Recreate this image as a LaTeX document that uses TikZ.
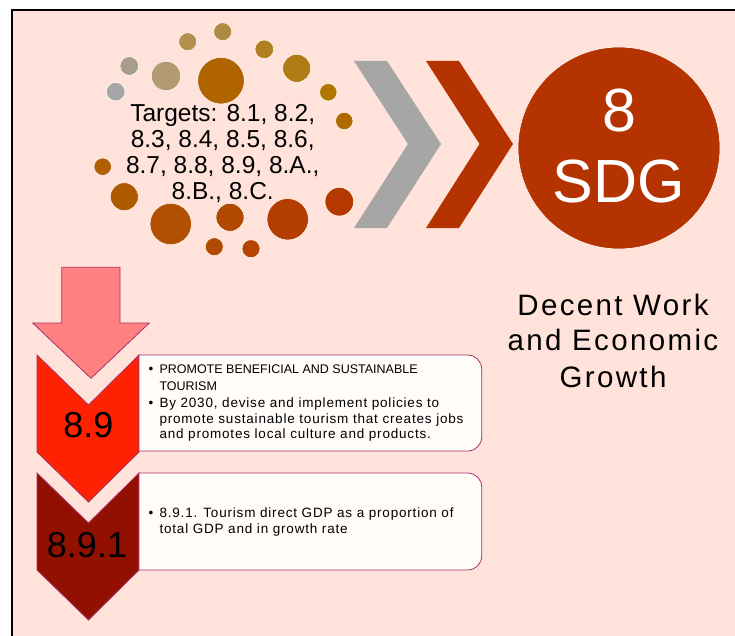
\documentclass[tikz,border=0pt]{standalone}
\usepackage{fontspec}
\setmainfont{Liberation Sans}
\definecolor{bg}{HTML}{FFE2D9}
\definecolor{rust}{HTML}{B53300}
\definecolor{greychev}{HTML}{A6A6A6}
\definecolor{salmon}{HTML}{FF8080}
\definecolor{redchev}{HTML}{FF2200}
\definecolor{darkchev}{HTML}{921000}
\definecolor{edge}{HTML}{A8306A}
\definecolor{boxfill}{HTML}{FFFCFA}
\begin{document}
\begin{tikzpicture}[x=1pt,y=-1pt,
  dot/.style={circle,inner sep=0pt,draw=white,line width=0.5pt,minimum size=#1},
  shapeedge/.style={draw=edge,line width=0.8pt},
  infobox/.style={fill=boxfill,draw=edge,line width=0.8pt},
  boxline/.style={anchor=base west,inner sep=0pt,font=\fontsize{13.5}{15.5}\selectfont\addfontfeatures{LetterSpace=6}},
  capsline/.style={anchor=base west,inner sep=0pt,font=\fontsize{12.5}{15}\selectfont},
  bulletmark/.style={anchor=base west,inner sep=0pt,font=\fontsize{13.5}{15}\selectfont},
  bignum/.style={anchor=base,inner sep=0pt,font=\fontsize{36}{40}\selectfont},
  targetline/.style={anchor=base,inner sep=0pt,font=\fontsize{24.5}{26}\selectfont},
  titleline/.style={anchor=base,inner sep=0pt,font=\fontsize{29.5}{36}\selectfont\addfontfeatures{LetterSpace=8}},
  sdgtext/.style={anchor=base,inner sep=0pt,text=white,font=\fontsize{61}{64}\selectfont}]
\useasboundingbox (0,0) rectangle (735,636);
% page and frame
\fill[white] (0,0) rectangle (735,636);
\fill[bg] (12,10) rectangle (735,636);
\draw[line width=2pt] (12,636) -- (12,10) -- (735,10);

% ring of dots around the targets
\foreach \n/\x/\y/\d/\c in {
  a/222.7/31.7/18/B08A40, b/187.7/41.7/18/B4904E, c/264.3/49.3/18.6/B08020,
  d/129.3/66/18.6/A89C8A, e/166/76/29.4/B29A72, f/221/80.7/46.6/B06400,
  g/296.7/68.3/28/B07A14, h/115.7/91.7/18.6/A6A6A6, i/328.3/92.3/17.4/B07800,
  j/344.3/121/17.4/B06A00, k/102.7/166.7/17.4/B06000, l/124.3/196.7/28/B05A00,
  m/170.7/224/41.4/B05000, n/230/217.3/28/B34800, o/287.7/219.3/41.4/B43E00,
  p/339.3/201.7/28.6/B53800, q/214.3/246.7/18/B24A00, r/251/248.7/18/B44400}
{
  \definecolor{dotcol}{HTML}{\c}
  \node[dot=\d pt,fill=dotcol] (dot\n) at (\x,\y) {};
}

% targets text
\node[targetline] (t1) at (222.7,121.7) {Targets: 8.1, 8.2,};
\node[targetline] (t2) at (222.7,148.0) {8.3, 8.4, 8.5, 8.6,};
\node[targetline] (t3) at (222.7,174.0) {8.7, 8.8, 8.9, 8.A.,};
\node[targetline] (t4) at (222.7,200.0) {8.B., 8.C.};

% chevrons pointing to the goal
\fill[greychev] (354,61) -- (387,61) -- (441,144) -- (387,228) -- (354,228) -- (408,144) -- cycle;
\fill[rust] (426,61) -- (459,61) -- (513,144) -- (459,228) -- (426,228) -- (479.5,144) -- cycle;

% goal disc
\node[circle,fill=rust,draw=white,line width=0.6pt,minimum size=202pt,inner sep=0pt] (goal) at (619,148) {};
\node[sdgtext] (goalnum) at (619,131.7) {8};
\node[sdgtext] (goalsdg) at (619,202.3) {SDG};

% goal title
\node[titleline] (title1) at (613,315) {Decent Work};
\node[titleline] (title2) at (613,350.7) {and Economic};
\node[titleline] (title3) at (613,387) {Growth};

% down arrow
\path[fill=salmon,shapeedge] (61.7,267.3) -- (120,267.3) -- (120,323) -- (149.3,323)
  -- (91,378.3) -- (32.7,323) -- (61.7,323) -- cycle;

% target chevrons
\path[fill=redchev,shapeedge] (37,355) -- (88.5,405) -- (139,355) -- (139,452)
  -- (88.5,502) -- (37,452) -- cycle;
\path[fill=darkchev,shapeedge] (37,473) -- (88.5,523) -- (139,473) -- (139,570)
  -- (88.5,620) -- (37,570) -- cycle;
\node[bignum] (lab89) at (88.3,437.7) {8.9};
\node[bignum] (lab891) at (87,557.7) {8.9.1};

% text boxes, rounded on the right only
\path[infobox] (139,355) -- (467.7,355) arc[start angle=-90,end angle=0,radius=14]
  -- (481.7,437) arc[start angle=0,end angle=90,radius=14] -- (139,451) -- cycle;
\path[infobox] (139,473) -- (467.7,473) arc[start angle=-90,end angle=0,radius=14]
  -- (481.7,556) arc[start angle=0,end angle=90,radius=14] -- (139,570) -- cycle;

% first box text
\node[bulletmark] (b1) at (148.3,373.3) {•};
\node[capsline] (l1) at (159.3,373.3) {PROMOTE BENEFICIAL AND SUSTAINABLE};
\node[capsline] (l2) at (159.3,390) {TOURISM};
\node[bulletmark] (b2) at (148.3,407.7) {•};
\node[boxline] (l3) at (159.3,407.7) {By 2030, devise and implement policies to};
\node[boxline] (l4) at (159.3,423.3) {promote sustainable tourism that creates jobs};
\node[boxline] (l5) at (159.3,438.5) {and promotes local culture and products.};

% second box text
\node[bulletmark] (b3) at (148.3,517.3) {•};
\node[boxline] (m1) at (159.3,517.3) {8.9.1. Tourism direct GDP as a proportion of};
\node[boxline] (m2) at (159.3,533.3) {total GDP and in growth rate};
\end{tikzpicture}
\end{document}
